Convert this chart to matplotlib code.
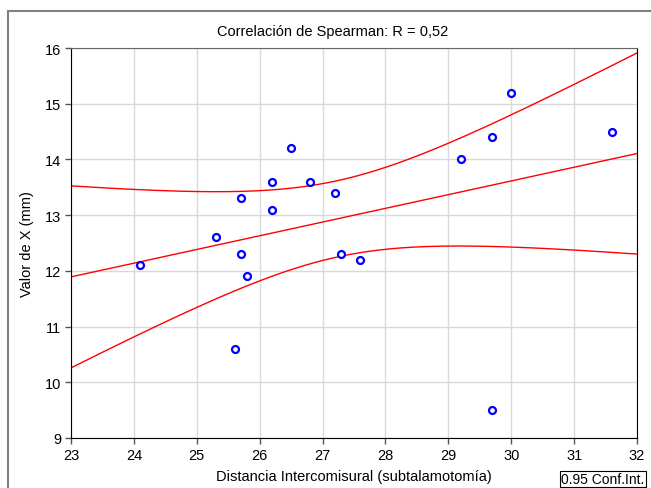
import numpy as np
import matplotlib
matplotlib.use("Agg")
import matplotlib.pyplot as plt
from matplotlib.patches import Rectangle

plt.rcParams['font.family'] = ['Liberation Sans', 'DejaVu Sans']

# Data
dist_x = [24.1, 25.3, 25.7, 25.7, 25.8, 25.6, 26.2, 26.2, 26.5, 26.8,
          27.2, 27.3, 27.6, 29.2, 29.7, 30.0, 31.6, 29.7]
valor_y = [12.1, 12.6, 13.3, 12.3, 11.9, 10.6, 13.6, 13.1, 14.2, 13.6,
           13.4, 12.3, 12.2, 14.0, 14.4, 15.2, 14.5, 9.5]
x_ticks = [23, 24, 25, 26, 27, 28, 29, 30, 31, 32]
y_ticks = [9, 10, 11, 12, 13, 14, 15, 16]
title = "Correlación de Spearman: R = 0,52"
xlabel = "Distancia Intercomisural (subtalamotomía)"
ylabel = "Valor de X (mm)"
legend_text = "0.95 Conf.Int."
t_crit = 2.1199  # t(0.975, df=16)

x = np.array(dist_x)
y = np.array(valor_y)
n = len(x)
slope, intercept = np.polyfit(x, y, 1)
resid = y - (slope * x + intercept)
s = np.sqrt(np.sum(resid ** 2) / (n - 2))
sxx = np.sum((x - x.mean()) ** 2)
xs = np.linspace(x_ticks[0], x_ticks[-1], 300)
ys = slope * xs + intercept
hw = t_crit * s * np.sqrt(1.0 / n + (xs - x.mean()) ** 2 / sxx)

W, H = 651, 489
fig = plt.figure(figsize=(W / 100, H / 100), dpi=100)
ax = fig.add_axes([71 / W, 1 - 439 / H, (637 - 71) / W, (439 - 49) / H])

ax.grid(True, color='#d9d9d9', linewidth=1)
ax.set_axisbelow(True)
ax.plot(xs, ys, color='red', lw=1)
ax.plot(xs, ys + hw, color='red', lw=1)
ax.plot(xs, ys - hw, color='red', lw=1)
ax.plot(x, y, 'o', markerfacecolor='white', markeredgecolor='blue',
        markersize=5, markeredgewidth=1.6, linestyle='none', zorder=5)

ax.set_xlim(x_ticks[0], x_ticks[-1])
ax.set_ylim(y_ticks[0], y_ticks[-1])
ax.set_xticks(x_ticks)
ax.set_yticks(y_ticks)
ax.tick_params(direction='out', length=4, width=1, labelsize=10.5,
               color='#555555', pad=3)
for side in ['left', 'bottom', 'right']:
    ax.spines[side].set_color('black')
ax.spines['top'].set_color('#666666')

fig.text(333 / W, 1 - 32 / H, title, fontsize=10.5, ha='center', va='center')
ax.set_xlabel(xlabel, fontsize=10.5, labelpad=5)
ax.set_ylabel(ylabel, fontsize=10.5, labelpad=8)

# outer frame
fig.patches.append(Rectangle((8 / W, -0.1), 1.2, 1 - 12 / H + 0.1,
                             transform=fig.transFigure, fill=False,
                             edgecolor='#808080', linewidth=1.5))

fig.text(561 / W, 1 - 484 / H, legend_text, fontsize=10, va='baseline', ha='left',
         bbox=dict(boxstyle='square,pad=0.1', facecolor='white',
                   edgecolor='black', linewidth=0.8))

fig.savefig('out.png', dpi=100)
